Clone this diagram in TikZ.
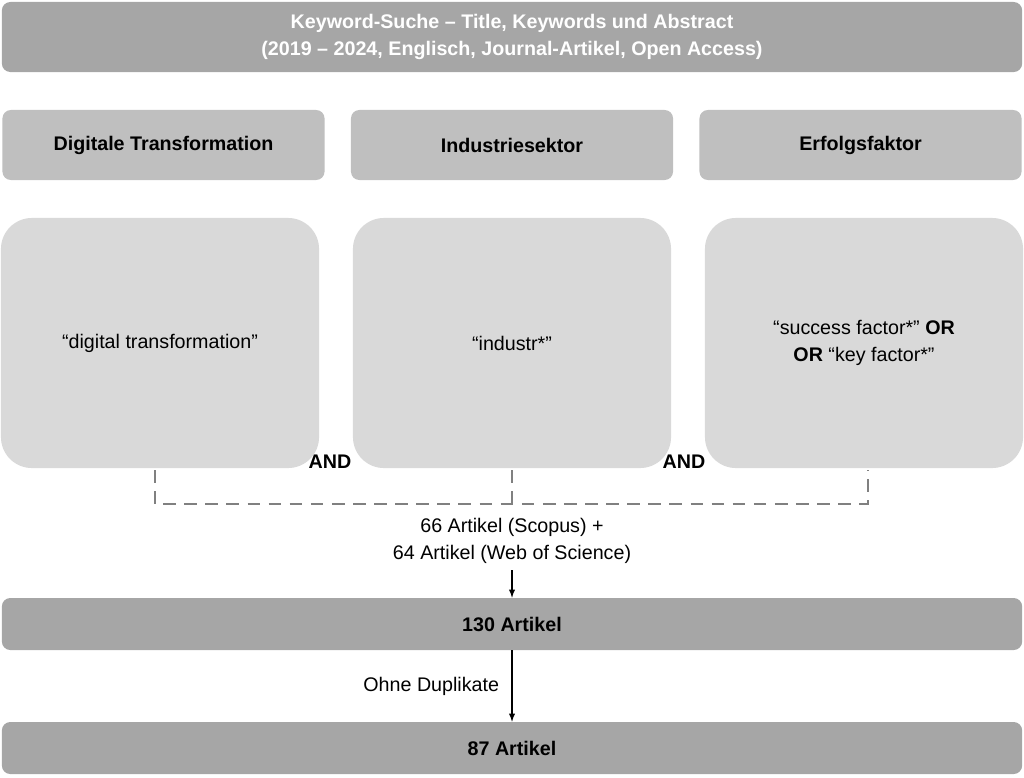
\documentclass[tikz,border=0pt]{standalone}
\usepackage{fontspec}
\setmainfont{Liberation Sans}
\usetikzlibrary{positioning}
\definecolor{bardark}{HTML}{A6A6A6}
\definecolor{barmid}{HTML}{BFBFBF}
\definecolor{boxlight}{HTML}{D9D9D9}
\tikzset{
  bar/.style={fill=bardark, rounded corners=6pt, minimum width=25.5cm, inner sep=0pt, font=\bfseries},
  head/.style={fill=barmid, rounded corners=6pt, minimum width=8.05cm, minimum height=1.75cm, inner sep=0pt, font=\bfseries},
  term/.style={fill=boxlight, rounded corners=22pt, minimum width=7.95cm, minimum height=6.25cm, inner sep=0pt, align=center},
  link/.style={gray, dashed, line width=1.3pt, dash pattern=on 9pt off 6pt},
  flow/.style={-latex, line width=1pt}
}
\begin{document}
\fontsize{14}{19}\selectfont
\begin{tikzpicture}[x=0.025cm, y=-0.025cm]
  \useasboundingbox (0,0) rectangle (1024,777);

  \node[bar, minimum height=1.75cm, text=white, align=center] (top) at (512,37)
    {Keyword-Suche -- Title, Keywords und Abstract\\(2019 -- 2024, Englisch, Journal-Artikel, Open Access)};

  \node[head] (h1) at (163.5,145) {Digitale Transformation};
  \node[head] (h2) at (512,145) {Industriesektor};
  \node[head] (h3) at (860.5,145) {Erfolgsfaktor};

  \node[term] (t1) at (160,343) {“digital transformation”};
  \node[term] (t2) at (512,343) {“industr*”};
  \node[term] (t3) at (864,343) {“success factor*” \textbf{OR}\\\textbf{OR} “key factor*”};

  \node (and1) at (330,462) {\textbf{AND}};
  \node (and2) at (684,462) {\textbf{AND}};

  % dashed merge
  \coordinate (c1) at (155,470);
  \coordinate (c2) at (512,470);
  \coordinate (c3) at (868,470);
  \coordinate (m) at (512,504);
  \draw[link] (c1) -- (c1 |- m) -- (c3 |- m) -- (c3);
  \draw[link] (c2) -- (m);

  \node[align=center] (res) at (512,541) {66 Artikel (Scopus) +\\64 Artikel (Web of Science)};

  \node[bar, minimum height=1.3cm] (n130) at (512,624) {130 Artikel};
  \node[bar, minimum height=1.3cm] (n87) at (512,748) {87 Artikel};

  \draw[flow] (res) -- (n130);
  \draw[flow] (n130) -- (n87) node[midway, left=4pt] {Ohne Duplikate};
\end{tikzpicture}
\end{document}
